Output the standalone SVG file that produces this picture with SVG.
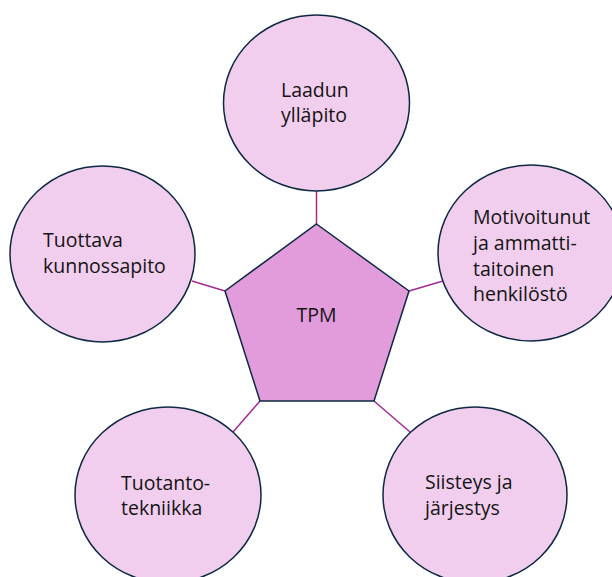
<svg xmlns="http://www.w3.org/2000/svg" width="612" height="577" viewBox="0 0 612 577">
<style>
.node{fill:#F2CEEE;stroke:#0E2841;stroke-width:1.5}
.core{fill:#E29CDB;stroke:#0E2841;stroke-width:1.5}
.conn line{stroke:#A02B93;stroke-width:1.5}
text{font-family:"Open Sans","Liberation Sans",sans-serif;font-size:19.5px;fill:#141414}
</style>
<rect width="612" height="577" fill="#ffffff"/>
<g id="connectors" class="conn">
<line x1="316.5" y1="191" x2="316.5" y2="224"/>
<line x1="192" y1="281" x2="225" y2="291"/>
<line x1="409" y1="291" x2="443" y2="281"/>
<line x1="260" y1="401" x2="233" y2="432"/>
<line x1="374" y1="401" x2="410" y2="432"/>
</g>
<g id="tpm">
<polygon class="core" points="316.5,224 409,291 374,401 260,401 225,291"/>
<text x="316.5" y="322" text-anchor="middle">TPM</text>
</g>
<g id="laadun">
<ellipse class="node" cx="316.5" cy="103" rx="93" ry="88"/>
<text x="281" y="97">Laadun</text>
<text x="281" y="122">ylläpito</text>
</g>
<g id="tuottava">
<ellipse class="node" cx="102.5" cy="254" rx="92.5" ry="88"/>
<text x="43" y="247">Tuottava</text>
<text x="43" y="273">kunnossapito</text>
</g>
<g id="motivoitunut">
<ellipse class="node" cx="531" cy="253" rx="93" ry="88"/>
<text x="473" y="224">Motivoitunut</text>
<text x="473" y="250">ja ammatti-</text>
<text x="473" y="276">taitoinen</text>
<text x="473" y="301">henkilöstö</text>
</g>
<g id="tuotanto">
<ellipse class="node" cx="168" cy="495" rx="93" ry="88"/>
<text x="121" y="490">Tuotanto-</text>
<text x="121" y="515">tekniikka</text>
</g>
<g id="siisteys">
<ellipse class="node" cx="475" cy="495" rx="92" ry="88"/>
<text x="425" y="489">Siisteys ja</text>
<text x="425" y="515">järjestys</text>
</g>
</svg>
